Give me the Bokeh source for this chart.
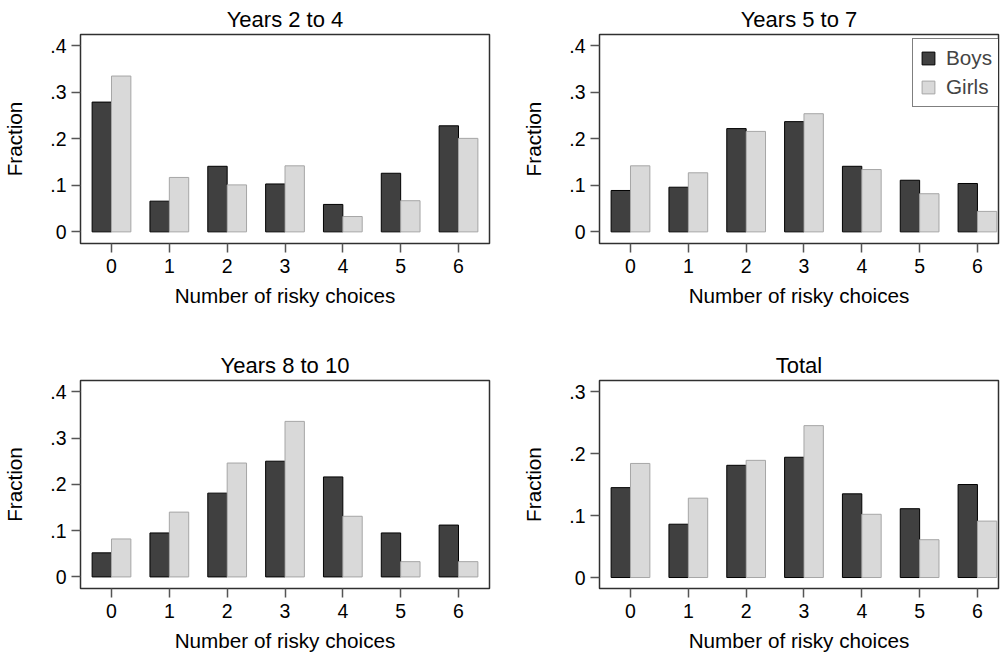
from bokeh.plotting import figure
from bokeh.layouts import column, row
from bokeh.models import ColumnDataSource, FixedTicker, Legend, LegendItem
from bokeh.transform import dodge
from bokeh.embed import file_html
from bokeh.resources import INLINE

# ---------------- data ----------------
choices = [0, 1, 2, 3, 4, 5, 6]
x_tick_labels = ["0", "1", "2", "3", "4", "5", "6"]

titles = ["Years 2 to 4", "Years 5 to 7", "Years 8 to 10", "Total"]

boys_2_4 = [0.279, 0.066, 0.141, 0.103, 0.059, 0.126, 0.228]
girls_2_4 = [0.335, 0.117, 0.101, 0.142, 0.033, 0.067, 0.201]

boys_5_7 = [0.089, 0.096, 0.222, 0.237, 0.141, 0.111, 0.104]
girls_5_7 = [0.142, 0.127, 0.216, 0.254, 0.134, 0.082, 0.044]

boys_8_10 = [0.052, 0.095, 0.181, 0.250, 0.216, 0.095, 0.112]
girls_8_10 = [0.082, 0.140, 0.246, 0.336, 0.131, 0.033, 0.033]

boys_total = [0.145, 0.086, 0.181, 0.194, 0.135, 0.111, 0.150]
girls_total = [0.184, 0.128, 0.189, 0.245, 0.102, 0.061, 0.091]

y_ticks_a = [0, 0.1, 0.2, 0.3, 0.4]
y_tick_labels_a = ["0", ".1", ".2", ".3", ".4"]
y_ticks_b = [0, 0.1, 0.2, 0.3]
y_tick_labels_b = ["0", ".1", ".2", ".3"]

series_names = ["Boys", "Girls"]

# ---------------- style ----------------
FONT = "Liberation Sans"
BOYS_FILL = "#404040"
BOYS_LINE = "#000000"
GIRLS_FILL = "#d9d9d9"
GIRLS_LINE = "#a6a6a6"
BAR_W = 0.335


def make_panel(title, boys, girls, yticks, ylabels, yrange, xrange, width, height,
               bl, br, bt, bb, legend=False):
    p = figure(width=width, height=height, output_backend="svg", toolbar_location=None,
               x_range=xrange, y_range=yrange, title=title,
               min_border_left=bl, min_border_right=br, min_border_top=bt,
               min_border_bottom=bb)
    src = ColumnDataSource(dict(x=choices, boys=boys, girls=girls))
    rb = p.vbar(x=dodge("x", -BAR_W / 2, range=p.x_range), top="boys", bottom=0, width=BAR_W,
                source=src, fill_color=BOYS_FILL, line_color=BOYS_LINE, line_width=1)
    rg = p.vbar(x=dodge("x", BAR_W / 2, range=p.x_range), top="girls", bottom=0, width=BAR_W,
                source=src, fill_color=GIRLS_FILL, line_color=GIRLS_LINE, line_width=1)

    p.xgrid.visible = False
    p.ygrid.visible = False
    p.outline_line_color = "#303030"
    p.outline_line_width = 1.5
    p.background_fill_color = "white"
    p.border_fill_color = "white"

    p.title.text_font = FONT
    p.title.text_font_size = "22px"
    p.title.text_font_style = "normal"
    p.title.text_color = "black"
    p.title.align = "center"
    p.title.standoff = 6

    for ax in (p.xaxis[0], p.yaxis[0]):
        ax.axis_line_color = None
        ax.major_tick_line_color = "#555555"
        ax.major_tick_line_width = 1.5
        ax.major_tick_out = 9
        ax.major_tick_in = 0
        ax.minor_tick_line_color = None
        ax.major_label_text_font = FONT
        ax.major_label_text_font_size = "19.5px"
        ax.major_label_text_color = "black"
        ax.axis_label_text_font = FONT
        ax.axis_label_text_font_size = "20.7px"
        ax.axis_label_text_font_style = "normal"
        ax.axis_label_text_color = "black"

    p.xaxis.ticker = FixedTicker(ticks=choices)
    p.xaxis.major_label_overrides = {c: l for c, l in zip(choices, x_tick_labels)}
    p.xaxis.major_label_standoff = 6
    p.xaxis.axis_label = "Number of risky choices"
    p.xaxis.axis_label_standoff = 8

    p.yaxis.ticker = FixedTicker(ticks=yticks)
    p.yaxis.major_label_overrides = {t: l for t, l in zip(yticks, ylabels)}
    p.yaxis.major_label_orientation = "horizontal"
    p.yaxis.major_label_standoff = 5
    p.yaxis.axis_label = "Fraction"
    p.yaxis.axis_label_standoff = 21

    if legend:
        lg = Legend(items=[LegendItem(label=series_names[0], renderers=[rb]),
                           LegendItem(label=series_names[1], renderers=[rg])],
                    location=(313, 136))
        lg.label_text_font = FONT
        lg.label_text_font_size = "20.7px"
        lg.glyph_width = 16
        lg.glyph_height = 16
        lg.label_height = 16
        lg.label_standoff = 10
        lg.spacing = 5
        lg.padding = 7
        lg.margin = 0
        lg.border_line_color = "black"
        lg.border_line_width = 1.2
        lg.background_fill_color = "white"
        lg.background_fill_alpha = 1.0
        p.add_layout(lg)
    return p


XL = (-0.536, 6.536)
XR = (-0.536, 6.364)
YA = (-0.025, 0.4243)
YB = (-0.0177, 0.3178)

p1 = make_panel(titles[0], boys_2_4, girls_2_4, y_ticks_a, y_tick_labels_a, YA, XL,
                500, 346, 80, 11, 34, 103)
p2 = make_panel(titles[1], boys_5_7, girls_5_7, y_ticks_a, y_tick_labels_a, YA, XR,
                500, 346, 99, 2, 34, 103, legend=True)
p3 = make_panel(titles[2], boys_8_10, girls_8_10, y_ticks_a, y_tick_labels_a, YA, XL,
                500, 308, 80, 11, 34, 66)
p4 = make_panel(titles[3], boys_total, girls_total, y_ticks_b, y_tick_labels_b, YB, XR,
                500, 308, 99, 2, 34, 66)

layout = column(row(p1, p2), row(p3, p4))

open("out.html", "w").write(file_html(layout, INLINE))
